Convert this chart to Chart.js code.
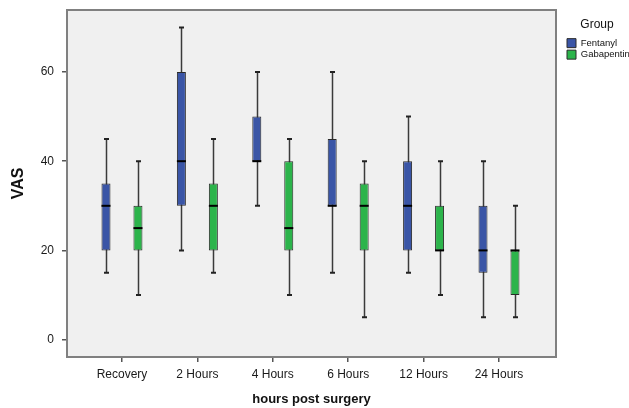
<!DOCTYPE html>
<html><head><meta charset="utf-8">
<script src="https://cdn.jsdelivr.net/npm/chart.js@4.4.1/dist/chart.umd.min.js"></script>
<style>html,body{margin:0;padding:0;background:#fff}#wrap{width:629px;height:408px;position:relative}</style>
</head><body><div id="wrap"><canvas id="c" width="629" height="408"></canvas></div>
<script>
const categories = ['Recovery', '2 Hours', '4 Hours', '6 Hours', '12 Hours', '24 Hours'];
const seriesNames = ['Fentanyl', 'Gabapentin'];
const fentanylMin    = [15, 20, 30, 15, 15, 5];
const fentanylQ1     = [20, 30, 40, 30, 20, 15];
const fentanylMedian = [30, 40, 40, 30, 30, 20];
const fentanylQ3     = [35, 60, 50, 45, 40, 30];
const fentanylMax    = [45, 70, 60, 60, 50, 40];
const gabapentinMin    = [10, 15, 10, 5, 10, 5];
const gabapentinQ1     = [20, 20, 20, 20, 20, 10];
const gabapentinMedian = [25, 30, 25, 30, 20, 20];
const gabapentinQ3     = [30, 35, 40, 35, 30, 20];
const gabapentinMax    = [40, 45, 45, 40, 40, 30];
const yTicks = [0, 20, 40, 60];

const FONT = "'Liberation Sans', Arial, sans-serif";
const GROUP_OFFSET = 0.212;

function boxDataset(label, offset, q1, q3, mn, med, mx, color) {
  return {
    label: label,
    data: categories.map((c, i) => ({ x: i + offset, y: [q1[i], q3[i]] })),
    whiskerMin: mn, whiskerMax: mx, medians: med,
    backgroundColor: color,
    borderColor: '#2a2a2a',
    borderWidth: 1,
    borderSkipped: false,
    grouped: false,
    maxBarThickness: 9
  };
}

const whiskerPlugin = {
  id: 'whiskers',
  beforeDraw(chart) {
    const a = chart.chartArea, ctx = chart.ctx;
    ctx.save();
    ctx.fillStyle = '#f0f0f0';
    ctx.fillRect(a.left, a.top, a.right - a.left, a.bottom - a.top);
    ctx.restore();
  },
  beforeDatasetsDraw(chart) {
    const ctx = chart.ctx, y = chart.scales.y;
    ctx.save();
    chart.data.datasets.forEach((ds, di) => {
      const meta = chart.getDatasetMeta(di);
      meta.data.forEach((bar, i) => {
        const x = Math.round(bar.x) + 0.5;
        const yMin = y.getPixelForValue(ds.whiskerMin[i]);
        const yMax = y.getPixelForValue(ds.whiskerMax[i]);
        ctx.strokeStyle = '#3a3a3a';
        ctx.lineWidth = 1.5;
        ctx.beginPath(); ctx.moveTo(x, yMin); ctx.lineTo(x, yMax); ctx.stroke();
        ctx.lineWidth = 2;
        ctx.strokeStyle = '#222';
        ctx.beginPath();
        ctx.moveTo(x - 2.5, yMin); ctx.lineTo(x + 2.5, yMin);
        ctx.moveTo(x - 2.5, yMax); ctx.lineTo(x + 2.5, yMax);
        ctx.stroke();
      });
    });
    ctx.restore();
  },
  afterDatasetsDraw(chart) {
    const ctx = chart.ctx, y = chart.scales.y;
    ctx.save();
    chart.data.datasets.forEach((ds, di) => {
      const meta = chart.getDatasetMeta(di);
      meta.data.forEach((bar, i) => {
        const ym = y.getPixelForValue(ds.medians[i]);
        const w = bar.width / 2;
        ctx.strokeStyle = '#000';
        ctx.lineWidth = 2;
        ctx.beginPath(); ctx.moveTo(bar.x - w, ym); ctx.lineTo(bar.x + w, ym); ctx.stroke();
      });
    });
    ctx.restore();
  },
  afterDraw(chart) {
    const a = chart.chartArea, ctx = chart.ctx;
    ctx.save();
    ctx.strokeStyle = '#808080';
    ctx.lineWidth = 2;
    ctx.strokeRect(a.left, a.top, a.right - a.left, a.bottom - a.top);
    ctx.restore();
  },
  afterLayout(chart) {
    const L = chart.legend;
    if (L) { L.left += 9; L.width -= 9; }
  }
};

new Chart(document.getElementById('c'), {
  type: 'bar',
  data: {
    datasets: [
      boxDataset(seriesNames[0], -GROUP_OFFSET, fentanylQ1, fentanylQ3, fentanylMin, fentanylMedian, fentanylMax, '#3a55a6'),
      boxDataset(seriesNames[1], GROUP_OFFSET, gabapentinQ1, gabapentinQ3, gabapentinMin, gabapentinMedian, gabapentinMax, '#2cb44b')
    ]
  },
  options: {
    responsive: false,
    devicePixelRatio: 1,
    animation: false,
    layout: { padding: { top: 10, left: 0, right: 0, bottom: 0 } },
    plugins: {
      tooltip: { enabled: false },
      legend: {
        position: 'right',
        align: 'start',
        maxWidth: 73,
        title: { display: true, text: 'Group', color: '#111', font: { family: FONT, size: 12 }, padding: { top: 9, bottom: 3 } },
        labels: { boxWidth: 9, boxHeight: 9, padding: 2, color: '#111', font: { family: FONT, size: 9.5 } }
      }
    },
    scales: {
      x: {
        type: 'linear',
        offset: false,
        min: -0.729, max: 5.756,
        afterBuildTicks: s => { s.ticks = categories.map((c, i) => ({ value: i })); },
        afterFit: s => { s.height = 51; s.paddingLeft = 0; s.paddingRight = 0; },
        ticks: { callback: v => categories[v], color: '#1a1a1a', font: { family: FONT, size: 12 }, padding: 5, maxRotation: 0, autoSkip: false },
        grid: { offset: false, drawOnChartArea: false, drawTicks: true, tickLength: 5, color: '#555', lineWidth: 1.5 },
        border: { display: false },
        title: { display: true, text: 'hours post surgery', color: '#111', font: { family: FONT, size: 13, weight: 'bold' }, padding: { top: 0, bottom: 1 } }
      },
      y: {
        min: -3.9, max: 73.9,
        afterBuildTicks: s => { s.ticks = yTicks.map(v => ({ value: v })); },
        afterFit: s => { s.width = 67; s.paddingTop = 0; s.paddingBottom = 0; },
        ticks: { color: '#1a1a1a', font: { family: FONT, size: 12 }, padding: 8 },
        grid: { drawOnChartArea: false, drawTicks: true, tickLength: 5, color: '#555', lineWidth: 1.5 },
        border: { display: false },
        title: { display: true, text: 'VAS', color: '#111', font: { family: FONT, size: 16, weight: 'bold' }, padding: { top: 9, bottom: 0 } }
      }
    }
  },
  plugins: [whiskerPlugin]
});
</script></body></html>
